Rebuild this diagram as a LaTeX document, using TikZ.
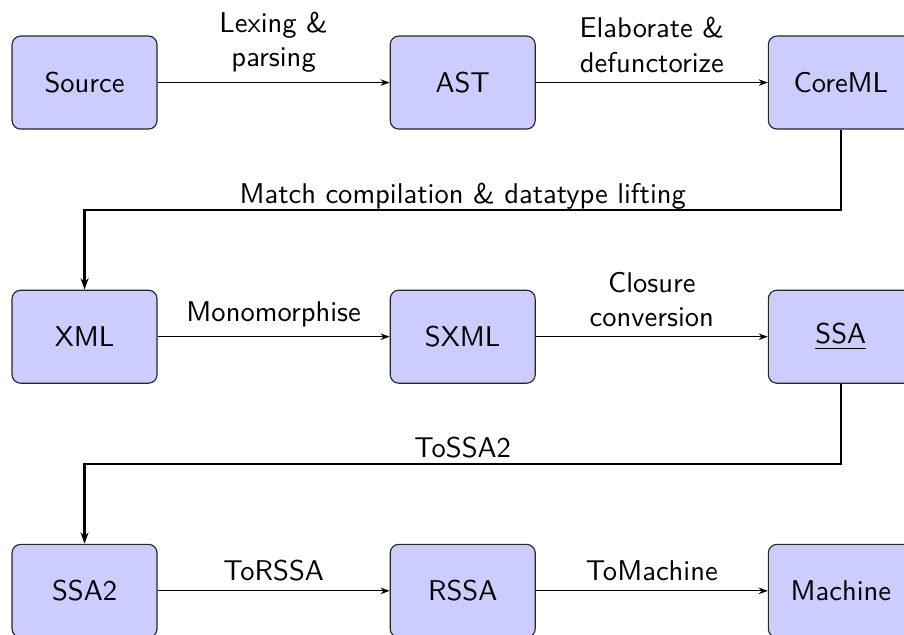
\documentclass[tikz,border=0pt]{standalone}
\usepackage{tikz}
\usetikzlibrary{arrows.meta,positioning}

\begin{document}
\begin{tikzpicture}[font=\sffamily, >={Stealth[length=3.2pt,width=2.3pt]},
  stage/.style={draw=black!85, fill=blue!20, rounded corners=3pt,
    minimum width=50.75pt, minimum height=32.55pt},
  wrap/.style={->, thick, >={Stealth[length=4pt,width=2.8pt]}},
  node distance=56pt and 81.2pt]
\useasboundingbox (-29.6pt,28.9pt) rectangle (286.8pt,-193.35pt);
% first row
\node[stage] (src) {Source};
\node[stage, right=of src] (ast) {AST};
\node[stage, right=of ast] (coreml) {CoreML};
% second row
\node[stage, below=of src] (xml) {XML};
\node[stage, right=of xml] (sxml) {SXML};
\node[stage, right=of sxml] (ssa) {\underline{SSA}};
% third row
\node[stage, below=of xml] (ssatwo) {SSA2};
\node[stage, right=of ssatwo] (rssa) {RSSA};
\node[stage, right=of rssa] (machine) {Machine};
% passes
\draw[->] (src) -- node[midway, above, align=center] {Lexing \&\\ parsing} (ast);
\draw[->] (ast) -- node[midway, above, align=center] {Elaborate \&\\ defunctorize} (coreml);
\draw[wrap] (coreml.south) -- ++(0,-28pt) -| node[pos=.25, above, inner sep=0pt, text depth=1.9pt]
  {Match compilation \& datatype lifting} (xml.north);
\draw[->] (xml) -- node[midway, above] {Monomorphise} (sxml);
\draw[->] (sxml) -- node[midway, above, align=center] {Closure\\ conversion} (ssa);
\draw[wrap] (ssa.south) -- ++(0,-28pt) -| node[pos=.25, above, inner sep=0pt, text depth=1.9pt]
  {ToSSA2} (ssatwo.north);
\draw[->] (ssatwo) -- node[midway, above] {ToRSSA} (rssa);
\draw[->] (rssa) -- node[midway, above] {ToMachine} (machine);
\end{tikzpicture}
\end{document}
